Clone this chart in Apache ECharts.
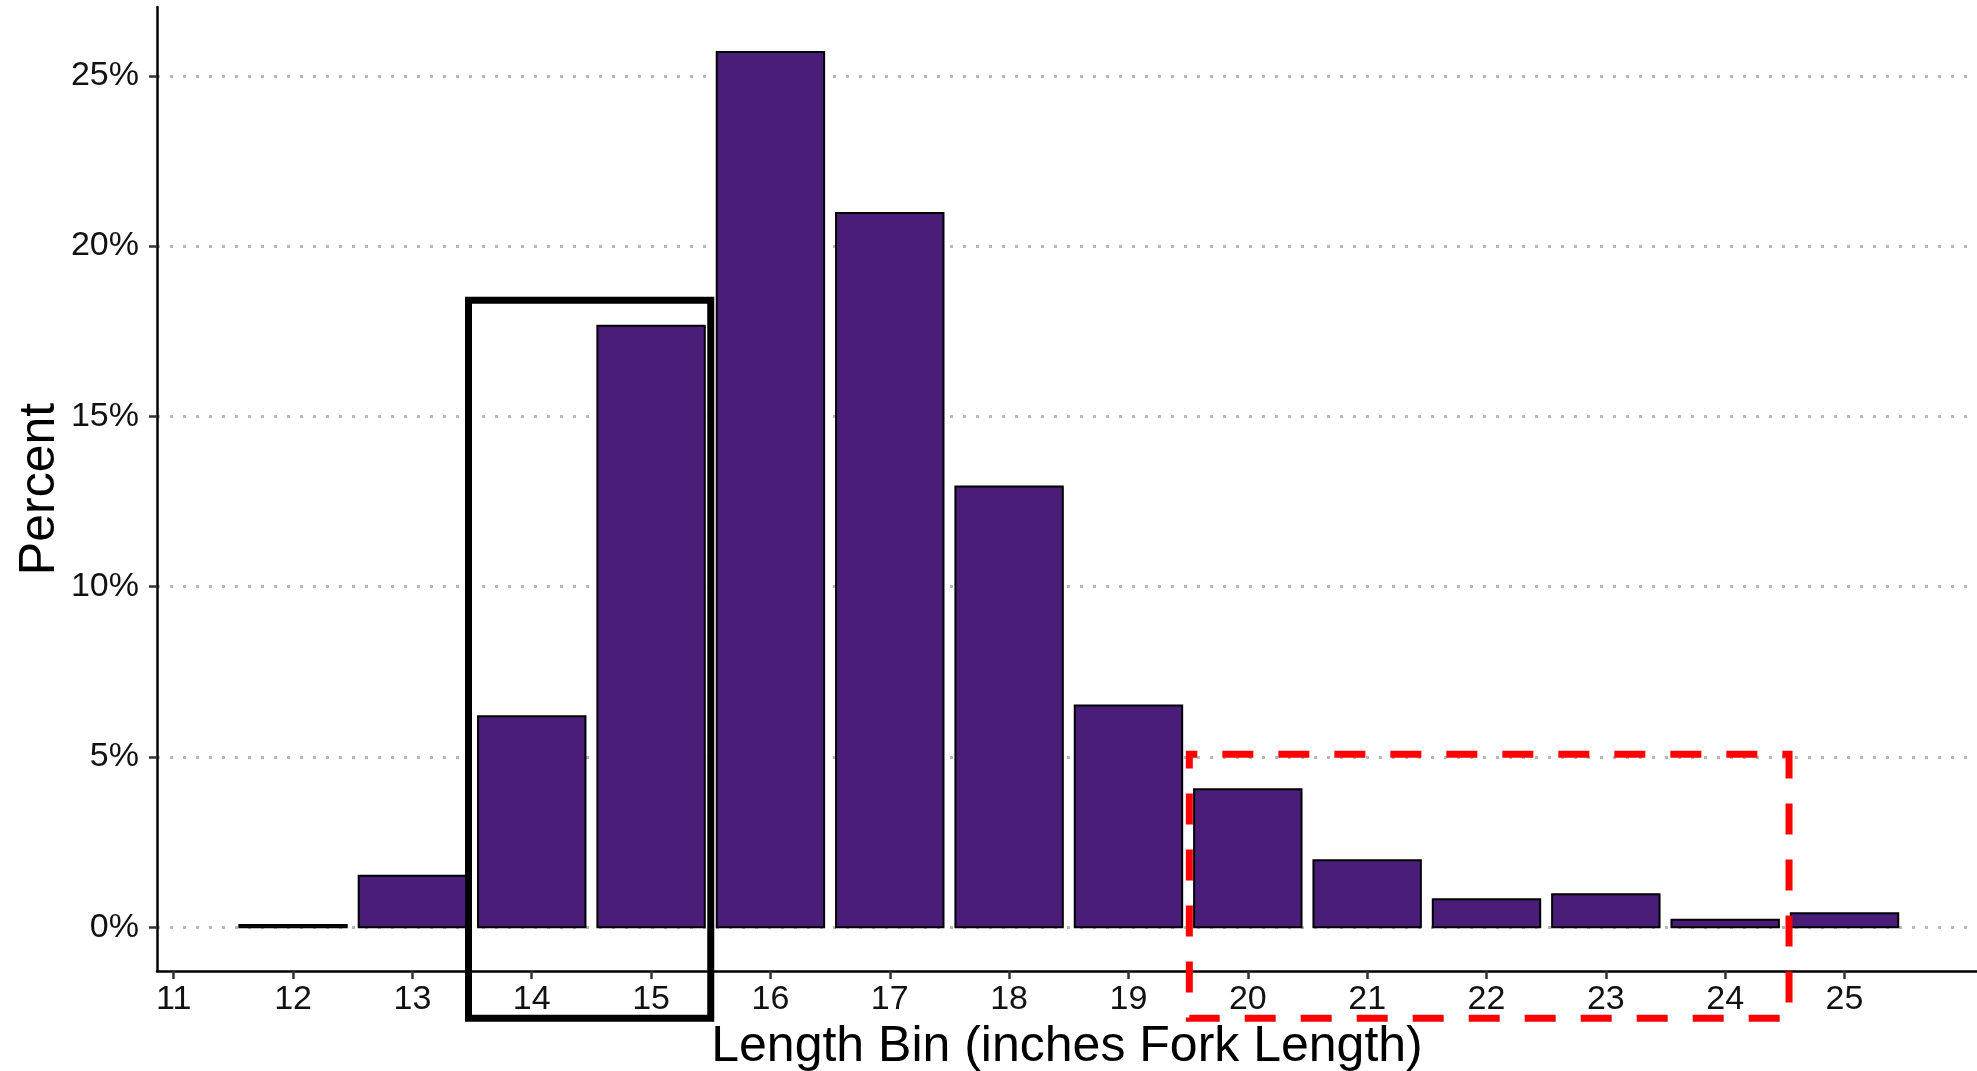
<!DOCTYPE html>
<html>
<head>
<meta charset="utf-8">
<script src="https://cdn.jsdelivr.net/npm/echarts@6/dist/echarts.min.js"></script>
<style>
html,body{margin:0;padding:0;background:#fff;}
#chart{width:1977px;height:1071px;}
</style>
</head>
<body>
<div id="chart"></div>
<script>
// ---- data ----
const bins = [12, 13, 14, 15, 16, 17, 18, 19, 20, 21, 22, 23, 24, 25];
const percents = [0.07, 1.51, 6.2, 17.66, 25.7, 20.97, 12.94, 6.51, 4.05, 1.97, 0.82, 0.97, 0.22, 0.41];
const xTicks = [11, 12, 13, 14, 15, 16, 17, 18, 19, 20, 21, 22, 23, 24, 25];
const yTicks = [0, 5, 10, 15, 20, 25];
// highlight boxes in data space: [xStart, xEnd, yBottom, yTop]
const blackBox = [13.47, 15.5, -2.67, 18.41];
const redBox = [19.51, 24.535, -2.67, 5.08];

const FONT = '"Liberation Sans", Arial, Helvetica, sans-serif';
const BAR_W = 0.9;

const chart = echarts.init(document.getElementById('chart'), null, {renderer: 'canvas'});

const option = {
  animation: false,
  backgroundColor: '#ffffff',
  grid: {left: 157, right: 0, top: 7, bottom: 100, containLabel: false, outerBoundsMode: 'none'},
  xAxis: {
    type: 'value',
    min: 10.86,
    max: 26.11,
    name: 'Length Bin (inches Fork Length)',
    nameLocation: 'middle',
    nameGap: 51,
    nameTextStyle: {fontSize: 50, color: '#000', fontFamily: FONT},
    axisLine: {show: true, onZero: false, lineStyle: {color: '#000', width: 2.5}},
    axisTick: {show: true, customValues: xTicks, length: 8, lineStyle: {color: '#333', width: 2.5}},
    axisLabel: {show: true, customValues: xTicks, fontSize: 34, margin: 12, color: '#111', fontFamily: FONT},
    splitLine: {show: false}
  },
  yAxis: {
    type: 'value',
    min: -1.283,
    max: 27.02,
    name: 'Percent',
    nameLocation: 'middle',
    nameGap: 92,
    nameMoveOverlap: false,
    nameTextStyle: {fontSize: 50, color: '#000', fontFamily: FONT},
    axisLine: {show: true, onZero: false, lineStyle: {color: '#000', width: 2.5}},
    axisTick: {show: true, customValues: yTicks, length: 8, lineStyle: {color: '#333', width: 2.5}},
    axisLabel: {show: true, customValues: yTicks, fontSize: 34, margin: 18, color: '#111', fontFamily: FONT,
      formatter: v => v + '%'},
    splitLine: {show: true, lineStyle: {color: '#b8b8b8', width: 3, type: [3, 10], cap: 'butt'}}
  },
  series: [
    {
      type: 'custom',
      name: 'bars',
      z: 2,
      encode: {x: 0, y: 1},
      data: bins.map((b, i) => [b, percents[i]]),
      renderItem: function (params, api) {
        const x = api.value(0), v = api.value(1);
        const p0 = api.coord([x - BAR_W / 2, v]);
        const p1 = api.coord([x + BAR_W / 2, 0]);
        return {
          type: 'rect',
          shape: {x: p0[0], y: p0[1], width: p1[0] - p0[0], height: p1[1] - p0[1]},
          style: {fill: '#4a1d79', stroke: '#000', lineWidth: 2}
        };
      }
    },
    {
      type: 'custom',
      name: 'boxes',
      z: 5,
      clip: false,
      encode: {x: [0, 1], y: [2, 3]},
      data: [blackBox, redBox],
      renderItem: function (params, api) {
        const a = api.coord([api.value(0), api.value(3)]);
        const b = api.coord([api.value(1), api.value(2)]);
        const isRed = params.dataIndex === 1;
        return {
          type: 'rect',
          shape: {x: a[0], y: a[1], width: b[0] - a[0], height: b[1] - a[1]},
          style: isRed
            ? {fill: 'none', stroke: '#ff0000', lineWidth: 7, lineDash: [31, 25], lineDashOffset: 23, lineJoin: 'miter'}
            : {fill: 'none', stroke: '#000', lineWidth: 7, lineJoin: 'miter'}
        };
      }
    }
  ]
};
chart.setOption(option);
</script>
</body>
</html>
